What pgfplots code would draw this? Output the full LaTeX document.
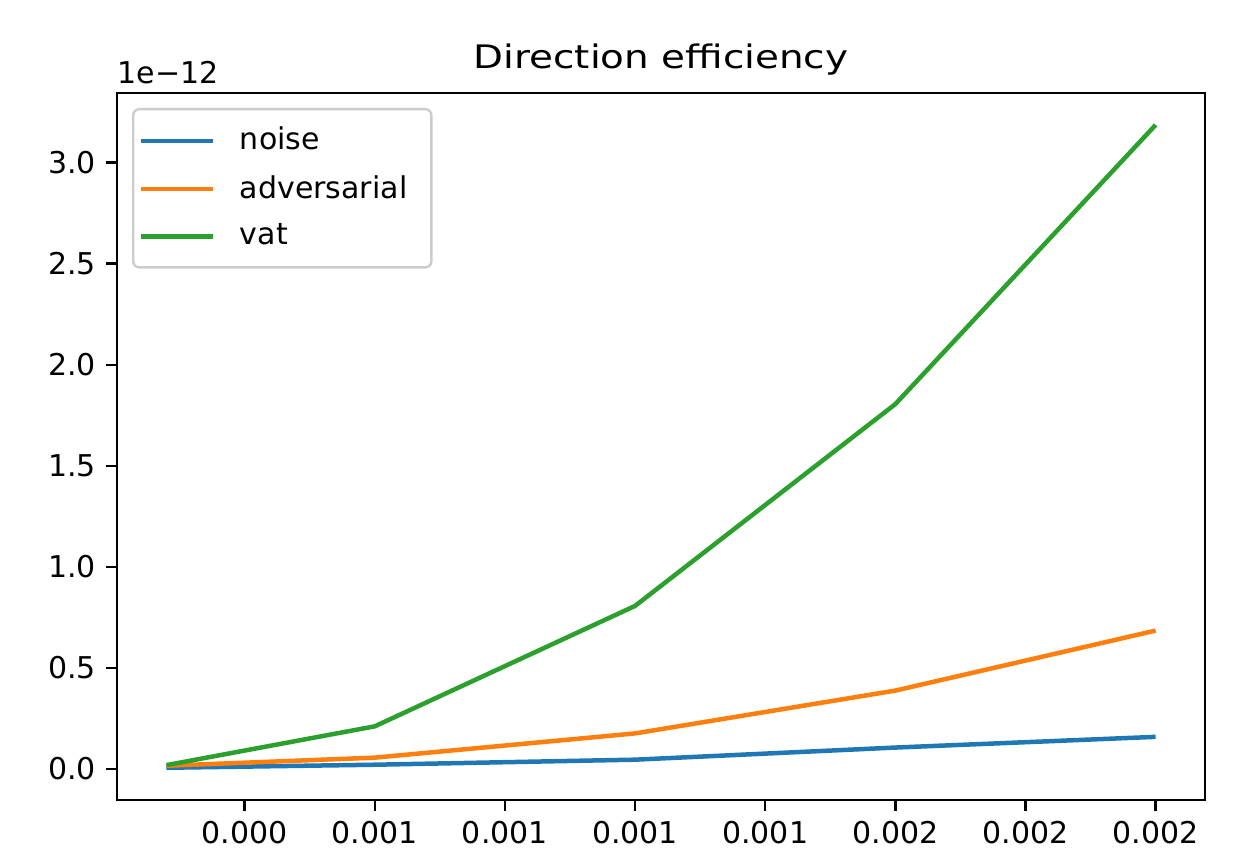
\documentclass[border=0pt]{standalone}
\usepackage{fontspec}
\setmainfont{DejaVu Sans}
\usepackage{pgfplots}
\pgfplotsset{compat=1.18}
\definecolor{c0}{HTML}{1F77B4}
\definecolor{c1}{HTML}{FF7F0E}
\definecolor{c2}{HTML}{2CA02C}
\begin{document}
\begin{tikzpicture}
\begin{axis}[
  name=ax, at={(0,0)}, anchor=south west,
  scale only axis, width=362.7pt, height=235.7pt,
  xmin=0.000005, xmax=0.002095, ymin=-0.155, ymax=3.345,
  xtick={0.00025,0.0005,0.00075,0.001,0.00125,0.0015,0.00175,0.002},
  xticklabels={0.000,0.001,0.001,0.001,0.001,0.002,0.002,0.002},
  ytick={0,0.5,1.0,1.5,2.0,2.5,3.0},
  scaled x ticks=false, scaled y ticks=false,
  /pgf/number format/assume math mode=true,
  yticklabel style={/pgf/number format/.cd, fixed, fixed zerofill, precision=1},
  tick label style={font=\fontsize{10}{12}\selectfont, black},
  tick align=outside, xtick pos=bottom, ytick pos=left,
  major tick length=3.5pt,
  every tick/.style={black, line width=0.8pt},
  axis line style={black, line width=0.8pt},
  title={Direction efficiency},
  every axis title/.style={at={(0.5,1)}, anchor=base, yshift=8.3pt,
    font=\fontsize{12}{14}\selectfont, xscale=1.08, yscale=0.9},
  legend cell align=left,
  legend image code/.code={\draw[#1] (0pt,0pt) -- (23.7pt,0pt);},
  legend style={at={(0,1)}, anchor=north west, xshift=5pt, yshift=-5pt,
    draw=black!20, rounded corners=2pt, line width=0.8pt, fill=white,
    font=\fontsize{10}{12}\selectfont, row sep=3pt, column sep=6.4pt,
    inner xsep=2pt, inner ysep=4pt},
  clip=false,
]
\addplot[c0, line width=1.5pt] coordinates {(0.0001,0.005) (0.0005,0.02) (0.001,0.045) (0.0015,0.105) (0.002,0.158)};
\addlegendentry{noise}
\addplot[c1, line width=1.5pt] coordinates {(0.0001,0.015) (0.0005,0.055) (0.001,0.175) (0.0015,0.387) (0.002,0.684)};
\addlegendentry{adversarial\kern4pt}
\addplot[c2, line width=1.5pt] coordinates {(0.0001,0.018) (0.0005,0.21) (0.001,0.806) (0.0015,1.805) (0.002,3.187)};
\addlegendentry{vat}
\end{axis}
\node[anchor=base west, inner sep=0pt, font=\fontsize{10}{12}\selectfont] at ([yshift=3.3pt]ax.north west) {1e−12};
\path ([xshift=-39pt,yshift=-20.1pt]ax.south west) rectangle ([xshift=12.3pt,yshift=31pt]ax.north east);
\end{tikzpicture}
\end{document}
